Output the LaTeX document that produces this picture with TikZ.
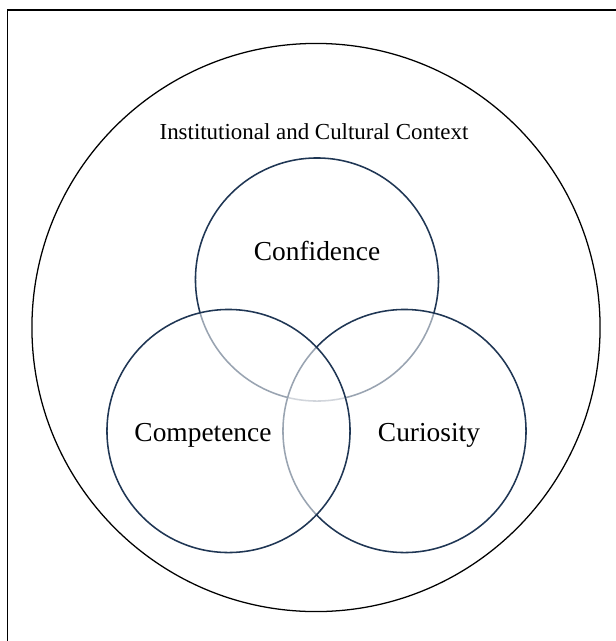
\documentclass[tikz,border=0pt]{standalone}
\usepackage{fontspec}
\setmainfont{Liberation Serif}
\definecolor{vennline}{HTML}{1F3654}
\tikzset{
  venn/.style={circle,draw=vennline,line width=1.1pt,fill=white,fill opacity=0.55,
    text opacity=1,minimum size=6.075cm,inner sep=0pt},
  vennlabel/.style={font=\fontsize{19.5}{23}\selectfont,inner sep=0pt}
}
\begin{document}
\begin{tikzpicture}[x=0.025cm,y=-0.025cm]
      \useasboundingbox (0,0) rectangle (616,641);
      \fill[white] (0,0) rectangle (616,641);
      % frame and outer context
      \draw[line width=1.3pt] (616,10) -- (7.5,10) -- (7.5,641);
      \node[circle,draw,line width=0.9pt,minimum size=14.2cm,inner sep=0pt] (context) at (316,327.5) {};
      \node[font=\fontsize{16.3}{19}\selectfont,inner sep=0pt] (contextlabel) at (314,132) {Institutional and Cultural Context};
      % the three circles
      \node[venn] (confidence) at (317,279.5) {};
      \node[venn] (curiosity) at (404.5,431) {};
      \node[venn] (competence) at (228.5,431) {};
      \begin{scope}[vennlabel]
        \node (conflabel) at (317,251) {Confidence};
        \node (complabel) at (203,435) {Competence};
        \node (curlabel) at (429,435) {Curiosity};
      \end{scope}
    \end{tikzpicture}
\end{document}
